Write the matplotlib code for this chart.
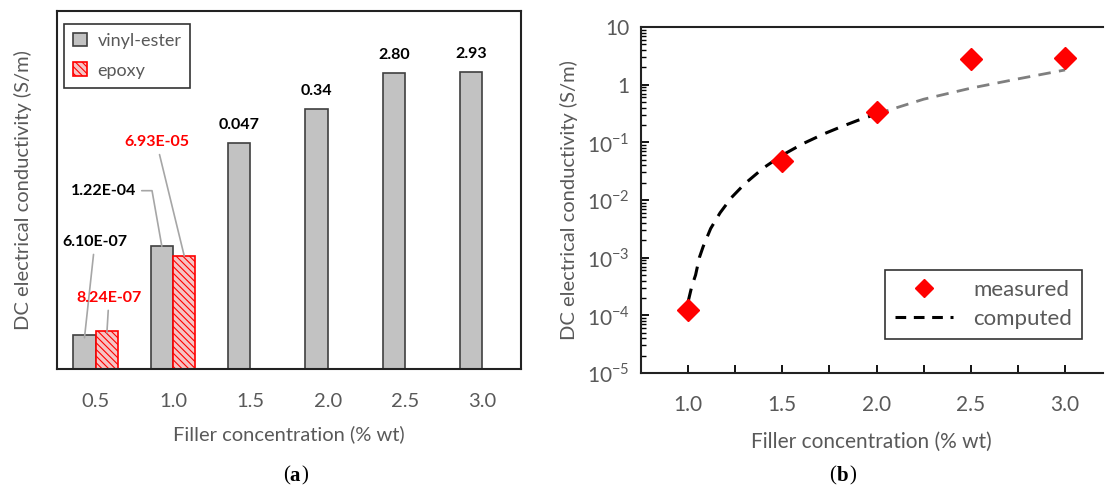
import numpy as np
import matplotlib
matplotlib.use("Agg")
import matplotlib.pyplot as plt
from matplotlib.ticker import FixedLocator, FuncFormatter, LogLocator, NullFormatter
from matplotlib.lines import Line2D

plt.rcParams['font.family'] = ['Lato', 'DejaVu Sans']
plt.rcParams['hatch.linewidth'] = 0.8

# data
concentrations = ['0.5', '1.0', '1.5', '2.0', '2.5', '3.0']
vinyl_ester = [6.10e-07, 1.22e-04, 0.047, 0.34, 2.80, 2.93]
epoxy = [8.24e-07, 6.93e-05, None, None, None, None]
vinyl_labels = ['6.10E-07', '1.22E-04', '0.047', '0.34', '2.80', '2.93']
epoxy_labels = ['8.24E-07', '6.93E-05']

measured_x = [1.0, 1.5, 2.0, 2.5, 3.0]
measured_y = [1.22e-04, 0.047, 0.34, 2.80, 2.93]
computed_x = [1.00, 1.02, 1.04, 1.06, 1.08, 1.12, 1.17, 1.23, 1.30, 1.40,
              1.50, 1.61, 1.72, 1.81, 1.90, 2.00]
computed_y = [1.7e-4, 3.2e-4, 5.0e-4, 1.0e-3, 1.55e-3, 3.2e-3, 6.0e-3, 1.1e-2,
              1.9e-2, 3.6e-2, 6.0e-2, 9.5e-2, 1.4e-1, 1.85e-1, 2.4e-1, 3.1e-1]
extrap_x = [2.0, 2.25, 2.5, 2.75, 3.0]
extrap_y = [0.31, 0.56, 0.87, 1.26, 1.8]

GRAY_TXT = '#595959'
RED = '#ff0000'

fig = plt.figure(figsize=(11.05, 4.91), dpi=100)

# ---- (a) bar chart ----
ax1 = fig.add_axes([0.0516, 0.2485, 0.420, 0.729])
x = np.arange(len(concentrations))
w = 0.29
ax1.bar(x - w / 2, vinyl_ester, w, color='#c2c2c2', edgecolor='#404040',
        linewidth=1.2, bottom=1e-7, label='vinyl-ester')
ep_x = [xi for xi, v in zip(x, epoxy) if v is not None]
ep_v = [v for v in epoxy if v is not None]
ax1.bar(np.array(ep_x) + w / 2, ep_v, w, facecolor='#f6c4c4', edgecolor=RED,
        hatch='\\\\\\\\\\', linewidth=1.2, bottom=1e-7, label='epoxy')
ax1.set_yscale('log')
ax1.set_ylim(1e-7, 1e2)
ax1.set_xlim(-0.5, 5.5)
ax1.set_xticks(x)
ax1.set_xticklabels(concentrations)
ax1.tick_params(axis='x', length=0, labelsize=14.5, colors=GRAY_TXT, pad=17)
ax1.tick_params(axis='y', which='both', left=False, labelleft=False)
for s in ax1.spines.values():
    s.set_color('#222222')
    s.set_linewidth(1.5)
ax1.set_ylabel('DC electrical conductivity (S/m)', fontsize=14.5, color=GRAY_TXT, labelpad=18)
ax1.set_xlabel('Filler concentration (% wt)', fontsize=14.5, color=GRAY_TXT, labelpad=11)

bold = dict(fontsize=11.5, fontweight='bold', ha='center', va='center')
line = dict(arrowstyle='-', color='#a6a6a6', lw=1.2, shrinkA=2, shrinkB=0)
# labels on top of bars from 1.5 upward
for i in range(2, len(vinyl_ester)):
    ax1.annotate(vinyl_labels[i], (x[i] - w / 2, vinyl_ester[i]), xytext=(0, 13),
                 textcoords='offset points', **bold)
# leader-line labels for the low values
ax1.annotate(vinyl_labels[0], (x[0] - w / 2, vinyl_ester[0]), xytext=(7.5, 69),
             textcoords='offset points', arrowprops=line, **bold)
ax1.annotate(epoxy_labels[0], (x[0] + w / 2, epoxy[0]), xytext=(1.5, 25),
             textcoords='offset points', color=RED, arrowprops=line, **bold)
ax1.annotate(vinyl_labels[1], (x[1] - w / 2, vinyl_ester[1]), xytext=(-42, 40),
             textcoords='offset points',
             arrowprops=dict(line, connectionstyle='angle,angleA=0,angleB=100,rad=0'),
             **bold)
ax1.annotate(epoxy_labels[1], (x[1] + w / 2, epoxy[1]), xytext=(-20, 82),
             textcoords='offset points', color=RED, arrowprops=line, **bold)

leg1 = ax1.legend(loc='upper left', bbox_to_anchor=(0.015, 0.965), fontsize=13,
                  frameon=True, fancybox=False, edgecolor='black',
                  handlelength=0.8, handleheight=0.8, handletextpad=0.55,
                  labelspacing=0.75, borderpad=0.5, borderaxespad=0)
leg1.get_frame().set_linewidth(1.2)
for t in leg1.get_texts():
    t.set_color(GRAY_TXT)

# ---- (b) log plot ----
ax2 = fig.add_axes([0.580, 0.2403, 0.418, 0.7047])
ax2.plot(extrap_x, extrap_y, color='#7f7f7f', lw=2, dashes=(4.5, 3))
ax2.plot(computed_x, computed_y, color='black', lw=2.2, dashes=(4.5, 3), label='computed')
ax2.plot(measured_x, measured_y, linestyle='none', marker='D', markersize=11,
         color=RED, label='measured')
ax2.set_yscale('log')
ax2.set_ylim(1e-5, 10)
ax2.set_xlim(0.75, 3.2)
ax2.xaxis.set_major_locator(FixedLocator(np.arange(1.0, 3.01, 0.25)))
ax2.xaxis.set_major_formatter(FuncFormatter(
    lambda v, p: f'{v:.1f}' if abs(v * 2 - round(v * 2)) < 1e-6 else ''))
ax2.yaxis.set_major_locator(LogLocator(base=10, numticks=10))
ax2.yaxis.set_minor_locator(LogLocator(base=10, subs=np.arange(2, 10), numticks=10))
ax2.yaxis.set_minor_formatter(NullFormatter())


def ylab(v, p):
    e = int(round(np.log10(v)))
    if e == 1:
        return '10'
    if e == 0:
        return '1'
    return r'10$^{\mathregular{%d}}$' % e


ax2.yaxis.set_major_formatter(FuncFormatter(ylab))
ax2.tick_params(axis='both', which='major', direction='in', length=6, width=1.3,
                labelsize=15, labelcolor=GRAY_TXT)
ax2.tick_params(axis='x', pad=16)
ax2.tick_params(axis='y', pad=8)
ax2.tick_params(axis='y', which='minor', direction='in', length=3.5, width=1.0)
ax2.spines['right'].set_visible(False)
for s in ['left', 'bottom', 'top']:
    ax2.spines[s].set_color('#222222')
    ax2.spines[s].set_linewidth(1.5)
ax2.set_ylabel('DC electrical conductivity (S/m)', fontsize=14.5, color=GRAY_TXT, labelpad=6)
ax2.set_xlabel('Filler concentration (% wt)', fontsize=15, color=GRAY_TXT, labelpad=12)

handles = [Line2D([], [], linestyle='none', marker='D', markersize=9, color=RED),
           Line2D([], [], color='black', lw=2.2, dashes=(3.5, 2.5))]
leg2 = ax2.legend(handles, ['measured', 'computed'], loc='lower right',
                  bbox_to_anchor=(0.955, 0.098), fontsize=16, frameon=True,
                  fancybox=False, edgecolor='black', handlelength=2.6,
                  handletextpad=0.9, labelspacing=0.4, borderpad=0.45,
                  borderaxespad=0)
leg2.get_frame().set_linewidth(1.2)
for t in leg2.get_texts():
    t.set_color(GRAY_TXT)

# panel letters
fig.text(0.262, 0.03, '(', fontsize=15, family='Liberation Serif', ha='right', va='center')
fig.text(0.262, 0.03, 'a', fontsize=15, family='Liberation Serif', fontweight='bold', ha='left', va='center')
fig.text(0.273, 0.03, ')', fontsize=15, family='Liberation Serif', ha='left', va='center')
fig.text(0.757, 0.03, '(', fontsize=15, family='Liberation Serif', ha='right', va='center')
fig.text(0.757, 0.03, 'b', fontsize=15, family='Liberation Serif', fontweight='bold', ha='left', va='center')
fig.text(0.769, 0.03, ')', fontsize=15, family='Liberation Serif', ha='left', va='center')

fig.savefig('out.png', dpi=100)
